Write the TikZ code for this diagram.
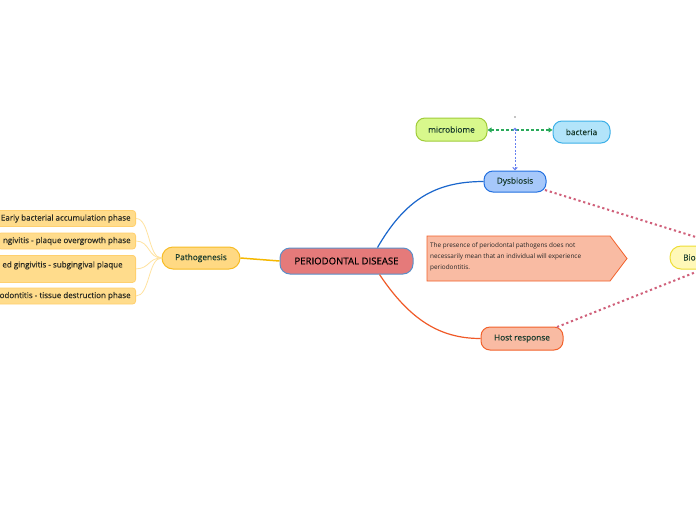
\documentclass[tikz,border=0pt]{standalone}
\usepackage{fontspec}
\setmainfont{Open Sans}
\newfontfamily\medfont[FakeBold=0.3]{Open Sans}
\usetikzlibrary{arrows.meta}
\definecolor{cenfill}{HTML}{E57A7A}
\definecolor{cendraw}{HTML}{5B8FC8}
\definecolor{patfill}{HTML}{FFD983}
\definecolor{patdraw}{HTML}{F7BC25}
\definecolor{chfill}{HTML}{FFDC8C}
\definecolor{chdraw}{HTML}{FFD06E}
\definecolor{chline}{HTML}{FFE3A0}
\definecolor{dysfill}{HTML}{A6C8FA}
\definecolor{dysdraw}{HTML}{2270E0}
\definecolor{micfill}{HTML}{D8F88C}
\definecolor{micdraw}{HTML}{A0CC3A}
\definecolor{bacfill}{HTML}{B2E4FA}
\definecolor{bacdraw}{HTML}{3CB0E8}
\definecolor{hostfill}{HTML}{F9BBA3}
\definecolor{hostdraw}{HTML}{F2612B}
\definecolor{biofill}{HTML}{FFF8B8}
\definecolor{biodraw}{HTML}{EEDD33}
\definecolor{txt}{HTML}{173A2C}
\definecolor{chtxt}{HTML}{2A2A22}
\definecolor{dotred}{HTML}{D0607A}
\definecolor{grn}{HTML}{2AAA5A}
\definecolor{blu}{HTML}{6680F0}
\definecolor{yel}{HTML}{F5B800}
\definecolor{bluecon}{HTML}{1A66CC}
\definecolor{orgcon}{HTML}{F05A28}
\tikzset{
  pill/.style={draw, line width=1pt, rounded corners=9pt, inner sep=0pt, text=txt, font=\medfont\fontsize{8.3}{10}\selectfont},
  childbox/.style={draw=chdraw, fill=chfill, line width=0.8pt, rounded corners=3pt, inner xsep=5pt, inner ysep=0pt, minimum height=16pt, text=chtxt, font=\medfont\fontsize{8.0}{10}\selectfont, anchor=east},
  chcon/.style={draw=chline, line width=0.8pt},
  dotcon/.style={draw=dotred, line width=2pt, dash pattern=on 2.2pt off 2.8pt},
}
\begin{document}
\begin{tikzpicture}[x=1pt,y=-1pt]
\useasboundingbox (0,0) rectangle (696,520);
\fill[white] (0,0) rectangle (696,520);
\clip (0,0) rectangle (696,520);

% central and main nodes
\node[pill, draw=cendraw, fill=cenfill, rounded corners=10pt, minimum width=133pt, minimum height=26pt, text=black, font=\medfont\fontsize{9.6}{11}\selectfont] (cen) at (346.5,261) {PERIODONTAL DISEASE};
\node[pill, draw=patdraw, fill=patfill, rounded corners=11pt, minimum width=78pt, minimum height=22pt] (pat) at (201,258) {Pathogenesis};
\node[pill, draw=dysdraw, fill=dysfill, minimum width=62pt, minimum height=21pt] (dys) at (515,181.5) {Dysbiosis};
\node[pill, draw=micdraw, fill=micfill, minimum width=71pt, minimum height=23pt] (mic) at (451.5,129.5) {microbiome};
\node[pill, draw=bacdraw, fill=bacfill, minimum width=57pt, minimum height=22pt] (bac) at (581.5,132) {bacteria};
\node[pill, draw=hostdraw, fill=hostfill, minimum width=82pt, minimum height=23pt] (host) at (522,338.5) {Host response};
\node[pill, draw=biodraw, fill=biofill, rounded corners=11pt, minimum width=70pt, minimum height=23pt] (bio) at (705,257.5) {};
\node[anchor=west, inner sep=0pt, text=txt, font=\medfont\fontsize{8.3}{10}\selectfont] (biotxt) at (683,257.5) {Bio};

% left children
\node[childbox] (c1) at (136,218.5) {Early bacterial accumulation phase};
\node[childbox] (c2) at (136,241) {ngivitis - plaque overgrowth phase};
\node[childbox, anchor=north east, minimum height=27pt, align=left, inner ysep=2pt] (c3) at (136,255) {ed gingivitis - subgingival plaque\hspace*{8pt}\\[-1pt]\mbox{}};
\node[childbox] (c4) at (136,296) {odontitis - tissue destruction phase};

% note
\coordinate (n1) at (427,236);
\coordinate (n2) at (610,236);
\coordinate (n3) at (627,258.5);
\coordinate (n4) at (610,281);
\coordinate (n5) at (427,281);
\draw[draw=hostdraw, fill=hostfill, line width=0.8pt] (n1) -- (n2) -- (n3) -- (n4) -- (n5) -- cycle;
\node[anchor=north west, inner sep=0pt, align=left, text=black!85, font=\fontsize{6.4}{11}\selectfont] (note) at (430,242.5) {The presence of periodontal pathogens does not\\necessarily mean that an individual will experience\\periodontitis.};

% connectors
\draw[draw=yel, line width=1.5pt] (cen.west) -- (pat.east);
\draw[draw=bluecon, line width=1.2pt] (cen.north east) ++(-36pt,0) coordinate (cb) (cb) .. controls (405,200) and (435,181.5) .. (dys.west);
\draw[draw=orgcon, line width=1.2pt] (cen.south east) ++(-34pt,0) coordinate (co) (co) .. controls (410,320) and (440,338.5) .. (host.west);

\draw[chcon] (pat.west) .. controls (148,258) and (150,218.5) .. (c1.east);
\draw[chcon] (pat.west) .. controls (148,258) and (150,241) .. (c2.east);
\draw[chcon] (pat.west) .. controls (148,258) and (150,268.5) .. (c3.east);
\draw[chcon] (pat.west) .. controls (148,258) and (150,296) .. (c4.east);

% dotted to Bio
\coordinate (d1) at (545,190);
\coordinate (b1) at (715,243);
\coordinate (h1) at (557,327);
\coordinate (b2) at (715,264.5);
\draw[dotcon] (d1) -- (b1);
\draw[dotcon] (h1) -- (b2);

% relation microbiome - bacteria
\draw[draw=grn, line width=1.1pt, dash pattern=on 3pt off 2pt, {Triangle[length=4pt,width=5pt]}-{Triangle[length=4pt,width=5pt]}] (mic.east |- 0,130) coordinate (gm) -- (bac.west |- 0,130) coordinate (gb);
\coordinate (rel) at (515,127.5);
\draw[draw=blu, line width=1pt, dash pattern=on 2pt off 1.5pt, {Straight Barb[length=2.5pt,width=4.5pt]}-{Straight Barb[length=2.5pt,width=4.5pt]}] (rel) -- (dys.north);
\fill[black] (515,117) circle (0.6pt);
\end{tikzpicture}
\end{document}
